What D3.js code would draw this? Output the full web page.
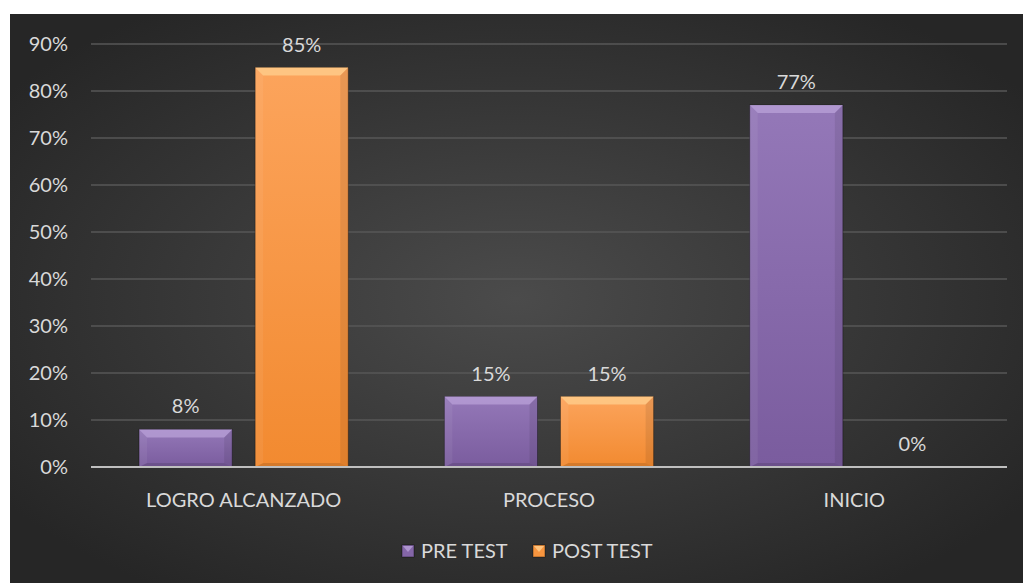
<!DOCTYPE html>
<html>
<head>
<meta charset="utf-8">
<script src="https://cdn.jsdelivr.net/npm/d3@7"></script>
<style>
  html, body { margin: 0; padding: 0; background: #fff; }
  svg { display: block; }
  text { font-family: Lato, "Open Sans", sans-serif; fill: #d9d9d9; }
</style>
</head>
<body>
<div id="chart"></div>
<script>
const categories = ["LOGRO ALCANZADO", "PROCESO", "INICIO"];
const seriesNames = ["PRE TEST", "POST TEST"];
const preTest = [0.08, 0.15, 0.77];
const postTest = [0.85, 0.15, 0.00];
const yTicks = [0, 0.1, 0.2, 0.3, 0.4, 0.5, 0.6, 0.7, 0.8, 0.9];

const W = 1023, H = 583;
const plot = { left: 91, right: 1007, top: 44, bottom: 467 };

const svg = d3.select("#chart")
    .append("svg")
    .attr("width", W)
    .attr("height", H);

const defs = svg.append("defs");

const bg = defs.append("radialGradient")
    .attr("id", "bg")
    .attr("cx", "50%").attr("cy", "50%").attr("r", "62%");
bg.append("stop").attr("offset", "0%").attr("stop-color", "#4b4b4b");
bg.append("stop").attr("offset", "100%").attr("stop-color", "#262626");

const colors = {
    "PRE TEST": { base: "#8466a8", light: "#b9a1d8", top: "#9478b8", bottom: "#7a5c9e" },
    "POST TEST": { base: "#f7953f", light: "#ffd08f", top: "#fca45c", bottom: "#f28a30" }
};

seriesNames.forEach((s, i) => {
    const g = defs.append("linearGradient")
        .attr("id", "fill" + i)
        .attr("x1", 0).attr("y1", 0).attr("x2", 0).attr("y2", 1);
    g.append("stop").attr("offset", "0%").attr("stop-color", colors[s].top);
    g.append("stop").attr("offset", "100%").attr("stop-color", colors[s].bottom);
});

// chart area background
svg.append("rect")
    .attr("x", 10).attr("y", 14)
    .attr("width", W - 10).attr("height", H - 14)
    .attr("fill", "url(#bg)");

const x0 = d3.scaleBand()
    .domain(categories)
    .range([plot.left, plot.right])
    .padding(0);

const x1 = d3.scaleBand()
    .domain(seriesNames)
    .range([0, x0.bandwidth()])
    .paddingInner(0.198)
    .paddingOuter(0.414);

const y = d3.scaleLinear()
    .domain([0, 0.9])
    .range([plot.bottom, plot.top]);

// gridlines
svg.append("g")
    .selectAll("line")
    .data(yTicks.filter(d => d > 0))
    .enter()
    .append("line")
    .attr("x1", plot.left)
    .attr("x2", plot.right)
    .attr("y1", d => y(d))
    .attr("y2", d => y(d))
    .attr("stroke", "#575757")
    .attr("stroke-width", 1.5);

// y tick labels
svg.append("g")
    .selectAll("text")
    .data(yTicks)
    .enter()
    .append("text")
    .attr("x", 68)
    .attr("y", d => y(d))
    .attr("dy", "0.35em")
    .attr("text-anchor", "end")
    .style("font-size", "20px")
    .text(d => d3.format(".0%")(d));

const rows = [];
categories.forEach((c, i) => {
    rows.push({ cat: c, series: "PRE TEST", idx: 0, value: preTest[i] });
    rows.push({ cat: c, series: "POST TEST", idx: 1, value: postTest[i] });
});

const bars = svg.append("g")
    .selectAll("g")
    .data(rows.filter(d => d.value > 0))
    .enter()
    .append("g");

bars.append("rect")
    .attr("x", d => x0(d.cat) + x1(d.series))
    .attr("y", d => y(d.value))
    .attr("width", x1.bandwidth())
    .attr("height", d => y(0) - y(d.value))
    .attr("fill", d => "url(#fill" + d.idx + ")")
    .attr("stroke", "rgba(0,0,0,0.35)")
    .attr("stroke-width", 1);

// bevel at top of each bar
const bev = 8;
bars.append("path")
    .attr("d", d => {
        const xl = x0(d.cat) + x1(d.series), xr = xl + x1.bandwidth(), yt = y(d.value);
        return `M${xl},${yt}L${xr},${yt}L${xr - bev},${yt + bev}L${xl + bev},${yt + bev}Z`;
    })
    .attr("fill", d => colors[d.series].light)
    .attr("opacity", 0.75);

// side bevels
bars.append("path")
    .attr("d", d => {
        const xl = x0(d.cat) + x1(d.series), yt = y(d.value), yb = y(0);
        return `M${xl},${yt}L${xl + bev},${yt + bev}L${xl + bev},${yb - 4}L${xl},${yb}Z`;
    })
    .attr("fill", "#ffffff")
    .attr("opacity", 0.06);

bars.append("path")
    .attr("d", d => {
        const xr = x0(d.cat) + x1(d.series) + x1.bandwidth(), yt = y(d.value), yb = y(0);
        return `M${xr},${yt}L${xr - bev},${yt + bev}L${xr - bev},${yb - 4}L${xr},${yb}Z`;
    })
    .attr("fill", "#000000")
    .attr("opacity", 0.08);

bars.append("path")
    .attr("d", d => {
        const xl = x0(d.cat) + x1(d.series), xr = xl + x1.bandwidth(), yb = y(0);
        return `M${xl},${yb}L${xl + bev},${yb - 4}L${xr - bev},${yb - 4}L${xr},${yb}Z`;
    })
    .attr("fill", "#000000")
    .attr("opacity", 0.12);

// value labels
svg.append("g")
    .selectAll("text")
    .data(rows)
    .enter()
    .append("text")
    .attr("x", d => x0(d.cat) + x1(d.series) + x1.bandwidth() / 2)
    .attr("y", d => y(d.value) - 16)
    .attr("text-anchor", "middle")
    .style("font-size", "20px")
    .text(d => d3.format(".0%")(d.value));

// x axis line
svg.append("line")
    .attr("x1", plot.left)
    .attr("x2", plot.right)
    .attr("y1", y(0))
    .attr("y2", y(0))
    .attr("stroke", "#bfbfbf")
    .attr("stroke-width", 2);

// category labels
svg.append("g")
    .selectAll("text")
    .data(categories)
    .enter()
    .append("text")
    .attr("x", d => x0(d) + x0.bandwidth() / 2)
    .attr("y", 500)
    .attr("dy", "0.35em")
    .attr("text-anchor", "middle")
    .style("font-size", "20px")
    .text(d => d);

// legend
const legendX = [402, 533];
const legend = svg.append("g")
    .selectAll("g")
    .data(seriesNames)
    .enter()
    .append("g")
    .attr("transform", (d, i) => `translate(${legendX[i]},551)`);

legend.append("rect")
    .attr("x", 0)
    .attr("y", -6)
    .attr("width", 12)
    .attr("height", 12)
    .attr("fill", d => colors[d].base)
    .attr("stroke", "rgba(0,0,0,0.4)");

legend.append("path")
    .attr("d", "M1,-5L11,-5L6,1Z")
    .attr("fill", d => colors[d].light)
    .attr("opacity", 0.8);

legend.append("text")
    .attr("x", 19)
    .attr("y", 0)
    .attr("dy", "0.35em")
    .style("font-size", "20px")
    .text(d => d);
</script>
</body>
</html>
